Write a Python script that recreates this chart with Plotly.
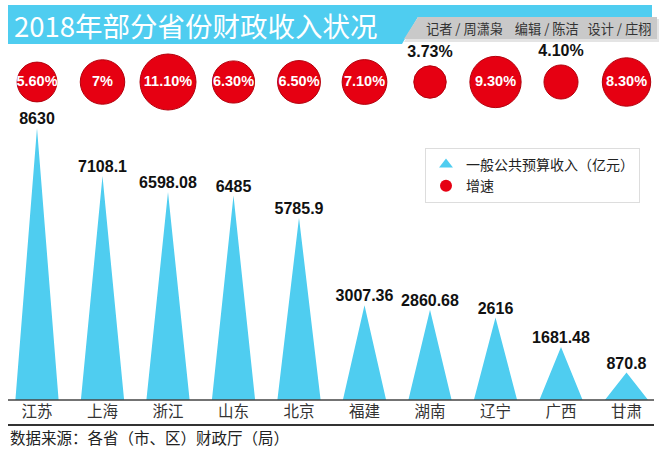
import math
import plotly.graph_objects as go

# ---------------- data ----------------
categories = ["江苏", "上海", "浙江", "山东", "北京", "福建", "湖南", "辽宁", "广西", "甘肃"]
revenue = [8630, 7108.1, 6598.08, 6485, 5785.9, 3007.36, 2860.68, 2616, 1681.48, 870.8]
growth = [5.60, 7, 11.10, 6.30, 6.50, 7.10, 3.73, 9.30, 4.10, 8.30]
growth_labels = ["5.60%", "7%", "11.10%", "6.30%", "6.50%", "7.10%", "3.73%", "9.30%", "4.10%", "8.30%"]
revenue_name = "一般公共预算收入（亿元）"
growth_name = "增速"
title_text = "2018年部分省份财政收入状况"
credit_text = "记者 / 周潇枭\u00a0\u00a0\u00a0\u00a0编辑 / 陈洁\u00a0\u00a0\u00a0设计 / 庄栩"
source_text = "数据来源：各省（市、区）财政厅（局）"

# ---------------- style ----------------
W, H = 660, 449
CYAN = "#4fcdf0"
RED = "#e60012"
CJK = "Noto Sans CJK SC, Noto Sans, sans-serif"
NUM = "Liberation Sans, Arial, sans-serif"


def px(x):
    return x / W


def py(y):
    return 1 - y / H


n = len(categories)
idx = list(range(n))
half_w = 0.33  # half base width of spike, in category units

tri_x, tri_y = [], []
for i, v in zip(idx, revenue):
    tri_x += [i - half_w, i, i + half_w, None]
    tri_y += [0, v, 0, None]

max_d = 56
max_g = max(growth)
bubble_sizes = [max_d * math.sqrt(g / max_g) for g in growth]
outside = [g < 5 for g in growth]
bubble_pos = ["top center" if o else "middle center" for o in outside]
bubble_col = ["#111111" if o else "white" for o in outside]
bubble_fs = [16 if o else 14.5 for o in outside]

fig = go.Figure()

# spikes
fig.add_trace(go.Scatter(
    x=tri_x, y=tri_y, mode="lines", fill="toself", fillcolor=CYAN,
    line=dict(width=0, color=CYAN), showlegend=False, hoverinfo="skip",
    xaxis="x", yaxis="y"))

# value labels
fig.add_trace(go.Scatter(
    x=idx, y=revenue, mode="text", text=[f"<b>{v:g}</b>" for v in revenue],
    textposition="top center",
    textfont=dict(family=NUM, size=16, color="#111111"),
    showlegend=False, cliponaxis=False, xaxis="x", yaxis="y"))

# bubbles
fig.add_trace(go.Scatter(
    x=idx, y=[growth_name] * n, mode="markers+text",
    marker=dict(size=bubble_sizes, sizemode="diameter", color=RED, opacity=1,
                line=dict(color="#b3000c", width=1)),
    text=[f"<b>{t}</b>" for t in growth_labels],
    textposition=bubble_pos,
    textfont=dict(family=NUM, size=bubble_fs, color=bubble_col),
    showlegend=False, cliponaxis=False, xaxis="x", yaxis="y2"))

# legend entries
fig.add_trace(go.Scatter(
    x=[None], y=[None], mode="markers", name=revenue_name,
    marker=dict(symbol="triangle-up", size=16, color=CYAN), xaxis="x", yaxis="y"))
fig.add_trace(go.Scatter(
    x=[None], y=[None], mode="markers", name=growth_name,
    marker=dict(symbol="circle", size=16, color=RED), xaxis="x", yaxis="y"))

shapes = [
    # title banner (cyan)
    dict(type="path", xref="paper", yref="paper",
         path=f"M {px(8)} {py(5)} L {px(652)} {py(5)} L {px(652)} {py(17)} "
              f"L {px(418)} {py(17)} L {px(402)} {py(44)} L {px(8)} {py(44)} Z",
         fillcolor=CYAN, line=dict(width=0), layer="below"),
    # credit box shadow
    dict(type="path", xref="paper", yref="paper",
         path=f"M {px(418)} {py(19)} L {px(659)} {py(19)} L {px(659)} {py(42)} "
              f"L {px(404)} {py(42)} Z",
         fillcolor="#e4e4e4", line=dict(width=0), layer="below"),
    # credit box (gray)
    dict(type="path", xref="paper", yref="paper",
         path=f"M {px(418)} {py(17)} L {px(657)} {py(17)} L {px(657)} {py(39)} "
              f"L {px(404)} {py(39)} Z",
         fillcolor="#c9c9c9", line=dict(width=0), layer="below"),
    # legend shadow
    dict(type="rect", xref="paper", yref="paper",
         x0=px(428), x1=px(632), y0=py(152), y1=py(201),
         fillcolor="rgba(0,0,0,0.22)", line=dict(width=0), layer="below"),
    # baseline
    dict(type="line", xref="paper", yref="paper",
         x0=px(8), x1=px(654), y0=py(400), y1=py(400),
         line=dict(color="#444444", width=1.5)),
    # separator under category labels
    dict(type="line", xref="paper", yref="paper",
         x0=px(8), x1=px(654), y0=py(425), y1=py(425),
         line=dict(color="#333333", width=2)),
]

annotations = [
    dict(text=title_text, xref="paper", yref="paper", x=px(12), y=py(25),
         xanchor="left", yanchor="middle", showarrow=False,
         font=dict(family=CJK, size=27.5, color="white")),
    dict(text=credit_text, xref="paper", yref="paper", x=px(424), y=py(29),
         xanchor="left", yanchor="middle", showarrow=False,
         font=dict(family=CJK, size=13.2, color="#333333")),
    dict(text=source_text, xref="paper", yref="paper", x=px(8), y=py(437),
         xanchor="left", yanchor="middle", showarrow=False,
         font=dict(family=CJK, size=15.5, color="#222222")),
]

fig.update_layout(
    width=W, height=H, autosize=False,
    margin=dict(l=0, r=0, t=0, b=0, pad=0),
    paper_bgcolor="white", plot_bgcolor="rgba(0,0,0,0)",
    showlegend=True,
    legend=dict(x=px(425), y=py(148), xanchor="left", yanchor="top",
                bgcolor="white", bordercolor="#dddddd", borderwidth=1,
                font=dict(family=CJK, size=14, color="#222222"),
                itemsizing="constant", tracegroupgap=0),
    xaxis=dict(range=[-0.5, n - 0.5], domain=[px(4.25), px(659.25)],
               tickmode="array", tickvals=idx, ticktext=categories,
               tickfont=dict(family=CJK, size=15.5, color="#333333"),
               showgrid=False, zeroline=False, showline=False, ticks="",
               fixedrange=True),
    yaxis=dict(range=[0, max(revenue)], domain=[py(400), py(128)],
               visible=False, showgrid=False, zeroline=False, fixedrange=True),
    yaxis2=dict(domain=[py(117), py(47)], type="category", anchor="x",
                visible=False, showgrid=False, zeroline=False, fixedrange=True),
    shapes=shapes,
    annotations=annotations,
)

fig.write_html("out.html", config={"displayModeBar": False},
               post_script="document.body.style.margin='0';document.body.style.overflow='hidden';")
